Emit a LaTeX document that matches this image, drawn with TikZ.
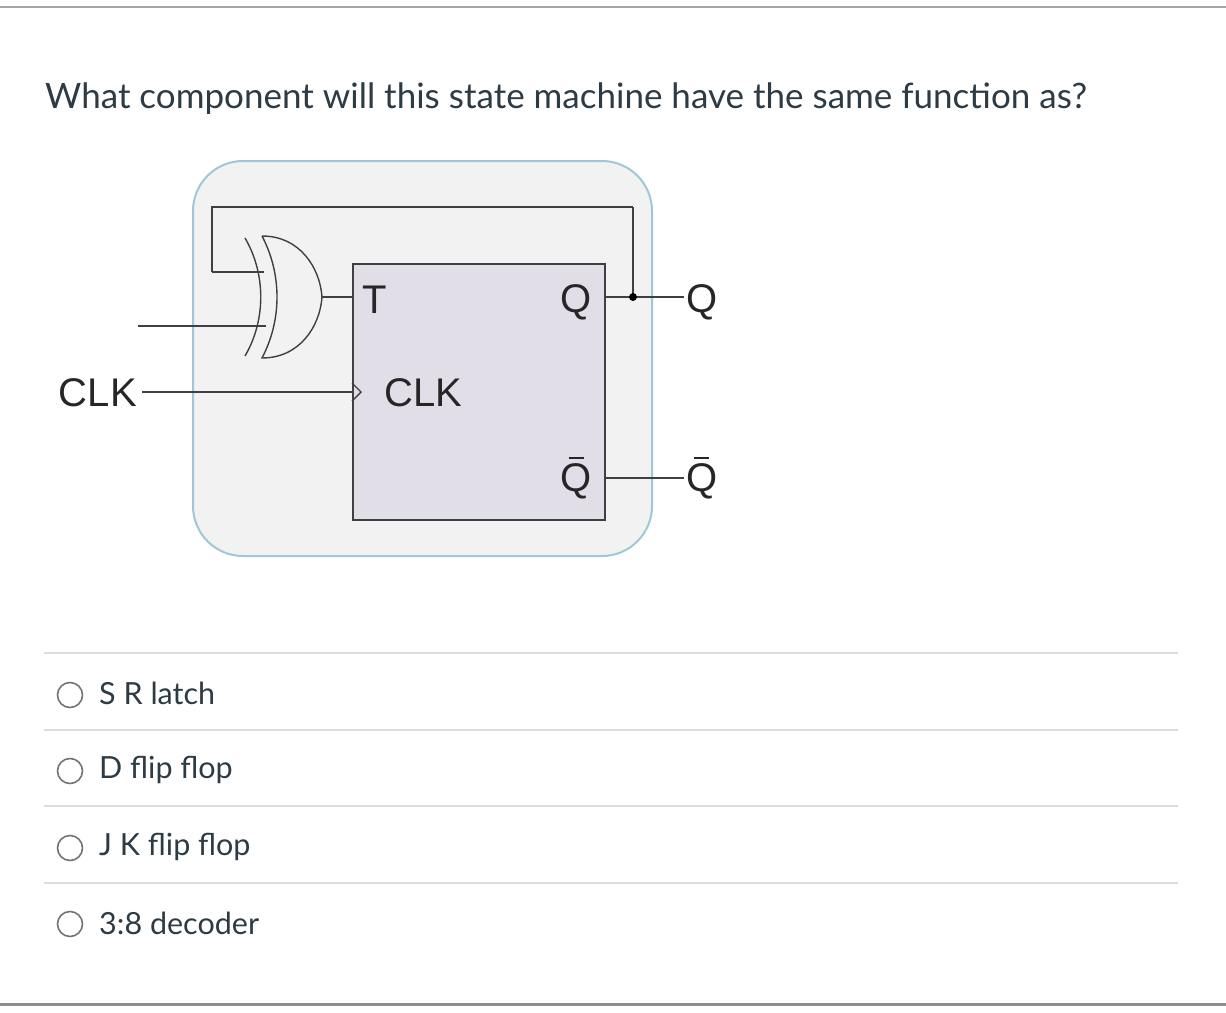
\documentclass[tikz,border=0pt]{standalone}
\usepackage{fontspec}
\setmainfont{Lato}
\newfontfamily\arial{Liberation Sans}
\definecolor{txt}{HTML}{2D3B45}
\definecolor{sep}{HTML}{DDDDDD}
\definecolor{ffill}{HTML}{E2DEE8}
\newcommand{\qbarsym}{\makebox[0pt][l]{\hspace{0.2em}\rule[0.82em]{0.38em}{1.8pt}}Q}
\begin{document}
\begin{tikzpicture}[x=1pt,y=-1pt,
  wire/.style={draw=black!75,line width=2.2pt},
  lbl/.style={font=\arial\fontsize{40}{40}\selectfont,inner sep=0pt,text=black!85},
  opt/.style={font=\fontsize{30.5}{30.5}\selectfont,text=txt,anchor=west,inner sep=0pt},
  radio/.style={circle,draw=black!55,line width=1.6pt,minimum size=25pt,inner sep=0pt}]
\useasboundingbox (0,0) rectangle (1226,1012);
\fill[white] (0,0) rectangle (1226,1012);
\draw[black!35,line width=1.5pt] (0,7) -- (1226,7);
\draw[black!45,line width=3pt] (0,1004) -- (1226,1004);
\node[anchor=west,inner sep=0pt,text=txt,font=\fontsize{35}{35}\selectfont] (q) at (45,99) {What component will this state machine have the same function as?};
% diagram frame
\draw[fill=black!5,draw=cyan!45!gray!60,line width=2pt,rounded corners=50pt] (193,161) rectangle (652,556);
\node[draw=black!75,line width=2.2pt,fill=ffill,minimum width=252pt,minimum height=256pt,inner sep=0pt,anchor=north west] (ff) at (352,263) {};
% xor
\draw[black!75,line width=1.4pt] (262,236) .. controls (300,236) and (320,268) .. (322,297) .. controls (320,326) and (300,358) .. (262,358) .. controls (282,320) and (282,274) .. (262,236);
\draw[black!75,line width=1.4pt] (245,238) .. controls (266,274) and (266,320) .. (245,356);
\coordinate (g) at (322,297);
\coordinate (fbl) at (212,272);
\coordinate (fbt) at (212,207);
\coordinate (fbr) at (633,207);
\coordinate (qd) at (633,297);
\coordinate (qa) at (604,297);
\coordinate (qe) at (684,297);
\coordinate (qba) at (604,478);
\coordinate (qbe) at (684,478);
\coordinate (in) at (138,326);
\coordinate (clk) at (142,392);
\coordinate (clkb) at (352,392);
\draw[wire] (fbr) -- (qd);
\draw[wire] (fbl) -- (fbt) -- (fbr);
\draw[wire] (fbl) -- (264,272);
\draw[wire] (in) -- (266,326);
\draw[wire] (g) -- (352,297);
\draw[wire] (qa) -- (qe);
\draw[wire] (qba) -- (qbe);
\draw[wire] (clk) -- (clkb);
\draw[black!75,line width=1.4pt] (352,383) -- (361,392) -- (352,401);
\fill[black] (qd) circle (4pt);
\node[lbl,anchor=west] (t) at (362,300) {T};
\node[lbl,anchor=west] (ck) at (384,393) {CLK};
\node[lbl,anchor=east] (qi) at (592,302) {Q};
\node[lbl,anchor=east] (qbi) at (592,478) {\qbarsym};
\node[lbl,anchor=west] (qo) at (686,302) {Q};
\node[lbl,anchor=west] (qbo) at (686,478) {\qbarsym};
\node[lbl,anchor=east] (cko) at (137,393) {CLK};
% options
\foreach \y in {653,730,806,883} \draw[sep,line width=1.3pt] (44,\y) -- (1178,\y);
\node[radio] (r1) at (70,695) {}; \node[opt] (o1) at (99,693) {S R latch};
\node[radio] (r2) at (70,771) {}; \node[opt] (o2) at (99,770) {D flip flop};
\node[radio] (r3) at (70,848) {}; \node[opt] (o3) at (99,847) {J K flip flop};
\node[radio] (r4) at (70,924) {}; \node[opt] (o4) at (99,923) {3:8 decoder};
\end{tikzpicture}
\end{document}
